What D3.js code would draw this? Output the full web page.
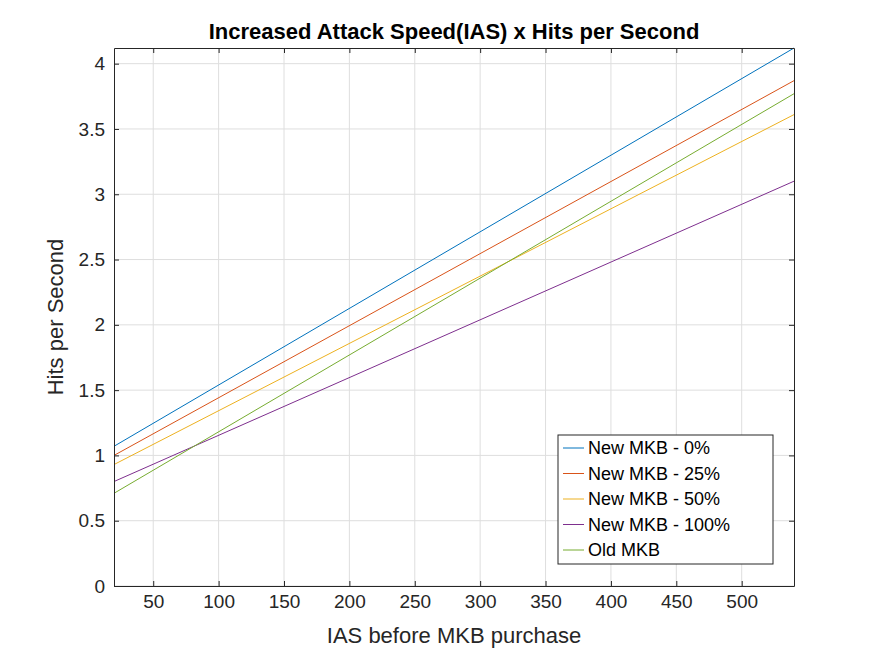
<!DOCTYPE html>
<meta charset="utf-8">
<script src="https://d3js.org/d3.v7.min.js"></script>
<style>
body { margin: 0; background: #fff; font-family: "Liberation Sans", Arial, sans-serif; }
.grid line { stroke: #dedede; }
</style>
<body>
<script>
var xVals = [20, 540];
var seriesNames = ["New MKB - 0%", "New MKB - 25%", "New MKB - 50%", "New MKB - 100%", "Old MKB"];
var seriesVals = [
  [1.07, 4.12],
  [1.00, 3.87],
  [0.93, 3.61],
  [0.80, 3.10],
  [0.71, 3.77]
];
var colors = ["#0072BD", "#D95319", "#EDB120", "#7E2F8E", "#77AC30"];
var xTicks = [50, 100, 150, 200, 250, 300, 350, 400, 450, 500];
var yTicks = [0, 0.5, 1, 1.5, 2, 2.5, 3, 3.5, 4];

var W = 875, H = 656;
var m = {left: 114, right: 81, top: 48, bottom: 70};

var svg = d3.select("body").append("svg").attr("width", W).attr("height", H);

var x = d3.scaleLinear().domain([20, 540]).range([m.left, W - m.right]);
var y = d3.scaleLinear().domain([0, 4.12]).range([H - m.bottom, m.top]);

// grid
var g = svg.append("g").attr("class", "grid");
g.selectAll(".gx").data(xTicks).enter().append("line")
  .attr("x1", d => x(d)).attr("x2", d => x(d))
  .attr("y1", m.top).attr("y2", H - m.bottom);
g.selectAll(".gy").data(yTicks).enter().append("line")
  .attr("y1", d => y(d)).attr("y2", d => y(d))
  .attr("x1", m.left).attr("x2", W - m.right);

// lines
var line = d3.line().x((d, i) => x(xVals[i])).y(d => y(d));
seriesVals.forEach(function(s, i) {
  svg.append("path").attr("d", line(s))
    .attr("fill", "none").attr("stroke", colors[i]).attr("stroke-width", 1);
});

// axes
var xa = svg.append("g").attr("transform", "translate(0," + (H - m.bottom) + ")")
  .call(d3.axisBottom(x).tickValues(xTicks).tickSizeInner(-5).tickSizeOuter(0).tickPadding(9));
var xt = svg.append("g").attr("transform", "translate(0," + m.top + ")")
  .call(d3.axisTop(x).tickValues(xTicks).tickSizeInner(-5).tickSizeOuter(0).tickFormat(""));
var ya = svg.append("g").attr("transform", "translate(" + m.left + ",0)")
  .call(d3.axisLeft(y).tickValues(yTicks).tickSizeInner(-5).tickSizeOuter(0).tickPadding(9).tickFormat(d3.format("")));
var yr = svg.append("g").attr("transform", "translate(" + (W - m.right) + ",0)")
  .call(d3.axisRight(y).tickValues(yTicks).tickSizeInner(-5).tickSizeOuter(0).tickFormat(""));
[xa, xt, ya, yr].forEach(function(a) {
  a.selectAll("path,line").attr("stroke", "#262626");
  a.selectAll("text").attr("fill", "#262626").style("font-size", "19px")
    .style("font-family", "Liberation Sans, Arial, sans-serif");
});

// labels
svg.append("text").attr("x", (m.left + W - m.right) / 2).attr("y", 39)
  .attr("text-anchor", "middle").style("font-size", "22px").style("font-weight", "bold")
  .attr("fill", "#000").text("Increased Attack Speed(IAS) x Hits per Second");
svg.append("text").attr("x", (m.left + W - m.right) / 2).attr("y", 643)
  .attr("text-anchor", "middle").style("font-size", "22px").attr("fill", "#262626")
  .text("IAS before MKB purchase");
svg.append("text").attr("transform", "translate(63," + ((m.top + H - m.bottom) / 2) + ") rotate(-90)")
  .attr("text-anchor", "middle").style("font-size", "22px").attr("fill", "#262626")
  .text("Hits per Second");

// legend
var lg = svg.append("g").attr("transform", "translate(558,435)");
lg.append("rect").attr("width", 215).attr("height", 129)
  .attr("fill", "#fff").attr("stroke", "#262626").attr("stroke-width", 1);
seriesNames.forEach(function(n, i) {
  var yy = 13 + i * 25.5;
  lg.append("line").attr("x1", 5).attr("x2", 26).attr("y1", yy).attr("y2", yy)
    .attr("stroke", colors[i]);
  lg.append("text").attr("x", 30).attr("y", yy + 6).style("font-size", "18px")
    .attr("fill", "#000").text(n);
});
</script>
</body>
